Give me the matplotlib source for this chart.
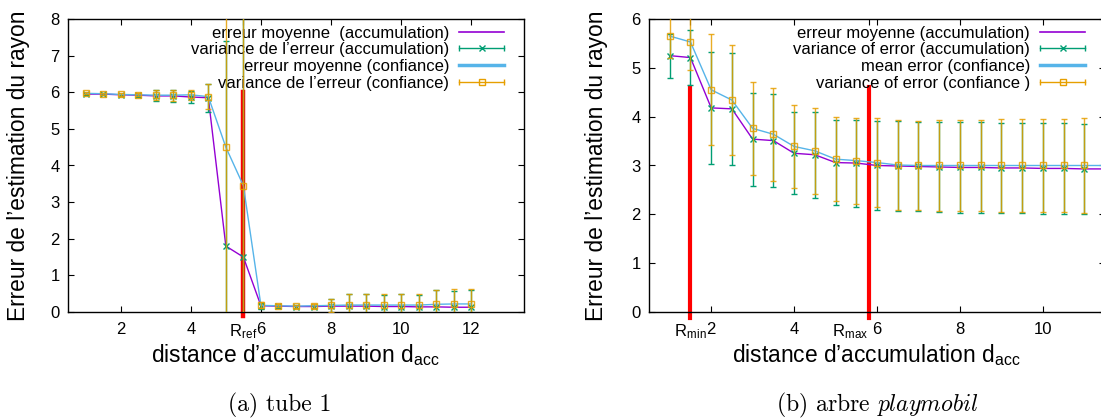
import matplotlib
matplotlib.use('Agg')
import matplotlib.pyplot as plt
from matplotlib.lines import Line2D
from matplotlib.legend_handler import HandlerBase

plt.rcParams['font.family'] = ['Liberation Sans', 'DejaVu Sans']
plt.rcParams['mathtext.fontset'] = 'cm'

PURPLE = '#9400D3'
GREEN = '#009E73'
BLUE = '#56B4E9'
ORANGE = '#E69F00'

# (a) tube 1
X_LEFT = [1, 1.5, 2, 2.5, 3, 3.5, 4, 4.5, 5, 5.5, 6, 6.5, 7, 7.5, 8, 8.5, 9, 9.5, 10, 10.5, 11, 11.5, 12]
LEFT_ACC_MEAN = [5.95, 5.95, 5.93, 5.92, 5.90, 5.90, 5.87, 5.85, 1.80, 1.50, 0.17, 0.16, 0.15, 0.15,
                 0.16, 0.16, 0.16, 0.15, 0.15, 0.14, 0.14, 0.13, 0.13]
LEFT_ACC_ERR = [0.03, 0.03, 0.03, 0.04, 0.15, 0.16, 0.17, 0.38, 5.60, 7.00, 0.08, 0.04, 0.04, 0.05,
                0.20, 0.32, 0.32, 0.32, 0.33, 0.33, 0.45, 0.45, 0.46]
LEFT_CONF_MEAN = [5.97, 5.96, 5.94, 5.93, 5.92, 5.92, 5.93, 5.88, 4.50, 3.45, 0.18, 0.17, 0.16, 0.17,
                  0.18, 0.19, 0.19, 0.19, 0.19, 0.19, 0.21, 0.22, 0.22]
LEFT_CONF_ERR = [0.03, 0.03, 0.03, 0.04, 0.14, 0.15, 0.14, 0.35, 5.00, 5.50, 0.08, 0.04, 0.04, 0.05,
                 0.18, 0.30, 0.30, 0.30, 0.30, 0.30, 0.40, 0.40, 0.40]
R_REF = 5.5

# (b) arbre playmobil
X_RIGHT = [1, 1.5, 2, 2.5, 3, 3.5, 4, 4.5, 5, 5.5, 6, 6.5, 7, 7.5, 8, 8.5, 9, 9.5, 10, 10.5, 11, 11.5, 12]
RIGHT_ACC_MEAN = [5.25, 5.21, 4.18, 4.16, 3.54, 3.51, 3.25, 3.22, 3.06, 3.05, 3.00, 2.99, 2.98, 2.97,
                  2.96, 2.96, 2.95, 2.95, 2.94, 2.94, 2.93, 2.93, 2.92]
RIGHT_ACC_ERR = [0.45, 0.57, 1.14, 1.14, 0.95, 0.95, 0.84, 0.88, 0.87, 0.89, 0.92, 0.92, 0.92, 0.93,
                 0.93, 0.93, 0.93, 0.93, 0.93, 0.93, 0.93, 0.93, 0.93]
RIGHT_CONF_MEAN = [5.65, 5.53, 4.55, 4.34, 3.76, 3.64, 3.39, 3.30, 3.13, 3.10, 3.06, 3.01, 3.00, 3.00,
                   3.00, 3.00, 3.00, 3.00, 3.00, 3.00, 3.00, 3.00, 3.00]
RIGHT_CONF_ERR = [0.45, 0.58, 1.14, 1.13, 0.95, 0.95, 0.85, 0.88, 0.86, 0.88, 0.92, 0.92, 0.92, 0.93,
                  0.94, 0.94, 0.95, 0.95, 0.96, 0.96, 0.97, 0.97, 0.97]
R_MIN = 1.5
R_MAX = 5.8

LEFT_LABELS = ['erreur moyenne  (accumulation)', 'variance de l\u2019erreur (accumulation)',
               'erreur moyenne (confiance)', 'variance de l\u2019erreur (confiance)']
RIGHT_LABELS = ['erreur moyenne (accumulation)', 'variance of error (accumulation)',
                'mean error (confiance)', 'variance of error (confiance )']


class ErrHandler(HandlerBase):
    # gnuplot style errorbar key: horizontal line with caps and a point in the middle
    def create_artists(self, legend, orig, xdescent, ydescent, width, height, fontsize, trans):
        y = height / 2 - ydescent
        x0 = -xdescent
        x1 = x0 + width
        c = orig.get_color()
        line = Line2D([x0, x1], [y, y], color=c, lw=1.0, transform=trans)
        caps = Line2D([x0, x1], [y, y], ls='none', marker='|', ms=5, mew=1.0, color=c, transform=trans)
        mk = Line2D([(x0 + x1) / 2], [y], ls='none', marker=orig.get_marker(), ms=orig.get_markersize(),
                    mfc='none', mec=c, mew=1.0, transform=trans)
        return [line, caps, mk]


def draw_panel(ax, x, acc_mean, acc_err, conf_mean, conf_err, ymax, xmax, labels):
    ax.plot(x, acc_mean, color=PURPLE, lw=1.0, zorder=3)
    ax.errorbar(x, acc_mean, yerr=acc_err, fmt='x', color=GREEN, ms=4, mew=1.0,
                elinewidth=1.0, capsize=2, capthick=1.0, zorder=4)
    ax.plot(x, conf_mean, color=BLUE, lw=1.0, zorder=5)
    ax.errorbar(x, conf_mean, yerr=conf_err, fmt='s', color=ORANGE, mfc='none', ms=5, mew=1.0,
                elinewidth=1.0, capsize=2, capthick=1.0, alpha=0.85, zorder=6)
    ax.set_xlim(0.5, xmax)
    ax.set_ylim(0, ymax)
    ax.set_yticks(range(0, ymax + 1))
    ax.tick_params(direction='in', top=True, right=True, length=4, width=0.8, labelsize=12)
    ax.tick_params(axis='x', pad=7)
    ax.tick_params(axis='y', pad=6)
    for s in ax.spines.values():
        s.set_linewidth(1.0)
    ax.set_xlabel('distance d\u2019accumulation d$_{\\mathregular{acc}}$', fontsize=16.4, labelpad=1)
    ax.set_ylabel('Erreur de l\u2019estimation du rayon', fontsize=16.4)

    handles = [Line2D([], [], color=PURPLE, lw=1.2),
               Line2D([], [], color=GREEN, marker='x', ms=4),
               Line2D([], [], color=BLUE, lw=2.5),
               Line2D([], [], color=ORANGE, marker='s', ms=5)]
    ax.legend(handles, labels, loc='upper right', bbox_to_anchor=(0.971, 1.0), borderaxespad=0,
              frameon=False, markerfirst=False, fontsize=12,
              handlelength=2.7, handletextpad=0.6, labelspacing=0.1,
              handler_map={handles[1]: ErrHandler(), handles[3]: ErrHandler()})


fig = plt.figure(figsize=(11.01, 4.19), dpi=100)

ax1 = fig.add_axes([68 / 1101, 107 / 419, 456 / 1101, 293 / 419])
ax1.plot([R_REF, R_REF], [-0.1, 6], color='red', lw=3.2, clip_on=False, zorder=2)
draw_panel(ax1, X_LEFT, LEFT_ACC_MEAN, LEFT_ACC_ERR, LEFT_CONF_MEAN, LEFT_CONF_ERR, 8, 13.5, LEFT_LABELS)
ax1.set_xticks([2, 4, R_REF, 6, 8, 10, 12])
ax1.set_xticklabels(['2', '4', 'R$_{\\mathregular{ref}}$', '6', '8', '10', '12'])
ax1.yaxis.set_label_coords(-0.083, 0.5)

ax2 = fig.add_axes([649 / 1101, 107 / 419, 456 / 1101, 293 / 419])
for r in (R_MIN, R_MAX):
    ax2.plot([r, r], [-0.12, 4.6], color='red', lw=3.0, clip_on=False, zorder=2)
draw_panel(ax2, X_RIGHT, RIGHT_ACC_MEAN, RIGHT_ACC_ERR, RIGHT_CONF_MEAN, RIGHT_CONF_ERR, 6, 11.5, RIGHT_LABELS)
ax2.set_xticks([R_MIN, 2, 4, R_MAX, 6, 8, 10])
ax2.set_xticklabels(['R$_{\\mathregular{min}}$', '2', '4', 'R$_{\\mathregular{max}}$', '6', '8', '10'])
ax2.get_xticklabels()[3].set_ha('right')
ax2.yaxis.set_label_coords(-0.09, 0.5)

fig.text(280 / 1101, 1 - 405 / 419, '(a) tube 1', family='cmr10', fontsize=17, ha='center', va='center')
fig.text(877 / 1101, 1 - 405 / 419, '(b) arbre $\\mathit{playmobil}$', family='cmr10', fontsize=17,
         ha='center', va='center')

fig.savefig('out.png', dpi=100)
